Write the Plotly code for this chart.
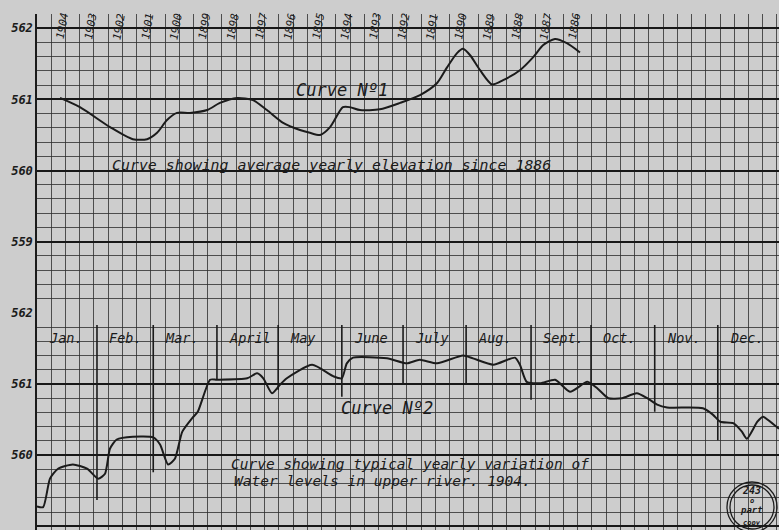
import plotly.graph_objects as go

# ---------------- DATA ----------------
# Curve No 1 : average yearly elevation since 1886 (x = year, reversed axis)
c1_year = [1904.07, 1903.37, 1902.31, 1901.51, 1901.01, 1900.66, 1900.31, 1899.96, 1899.50,
           1898.90, 1898.45, 1897.85, 1897.29, 1896.80, 1896.23, 1895.64, 1895.29, 1894.93,
           1894.58, 1894.13, 1893.88, 1893.53, 1892.83, 1892.12, 1891.42, 1890.82, 1890.47,
           1890.12, 1889.91, 1889.66, 1889.31, 1888.89, 1888.50, 1887.91, 1887.45, 1887.10,
           1886.68, 1886.26, 1885.80]
c1_elev = [561.02, 560.89, 560.61, 560.44, 560.44, 560.53, 560.71, 560.81, 560.81,
           560.85, 560.95, 561.02, 560.99, 560.85, 560.67, 560.57, 560.53, 560.50,
           560.61, 560.89, 560.89, 560.85, 560.86, 560.95, 561.06, 561.23, 561.45,
           561.65, 561.71, 561.62, 561.41, 561.21, 561.27, 561.41, 561.59, 561.76,
           561.85, 561.79, 561.66]
year_labels = [1904, 1903, 1902, 1901, 1900, 1899, 1898, 1897, 1896, 1895,
               1894, 1893, 1892, 1891, 1890, 1889, 1888, 1887, 1886]

# Curve No 2 : typical yearly variation of water levels in upper river, 1904 (x = months from 1 Jan)
c2_month = [0.00, 0.10, 0.21, 0.34, 0.58, 0.81, 0.99, 1.10, 1.18, 1.29, 1.55, 1.88, 1.99,
            2.12, 2.23, 2.35, 2.51, 2.60, 2.80, 2.91, 3.40, 3.56, 3.66, 3.80, 3.93, 4.04,
            4.45, 4.79, 4.93, 5.01, 5.11, 5.66, 5.98, 6.19, 6.47, 6.89, 7.05, 7.38, 7.73,
            7.81, 7.92, 8.14, 8.38, 8.62, 8.90, 9.06, 9.24, 9.46, 9.70, 9.87, 10.03, 10.19,
            10.77, 10.93, 11.05, 11.26, 11.40, 11.48, 11.65, 11.74, 11.86, 12.00]
c2_elev = [559.28, 559.27, 559.67, 559.81, 559.87, 559.81, 559.67, 559.74, 560.09, 560.22,
           560.26, 560.25, 560.15, 559.87, 559.95, 560.33, 560.52, 560.61, 561.06, 561.06,
           561.08, 561.15, 561.08, 560.87, 560.99, 561.08, 561.27, 561.11, 561.08, 561.29,
           561.37, 561.36, 561.29, 561.34, 561.29, 561.40, 561.36, 561.27, 561.37, 561.27,
           561.03, 561.01, 561.06, 560.89, 561.03, 560.94, 560.80, 560.80, 560.87, 560.80,
           560.71, 560.67, 560.66, 560.57, 560.47, 560.45, 560.33, 560.23, 560.47, 560.54,
           560.47, 560.37]
month_names = ["Jan.", "Feb.", "Mar.", "April", "May", "June", "July", "Aug.",
               "Sept.", "Oct.", "Nov.", "Dec."]
# month boundaries as drawn (months from 1 Jan) and the elevation where each divider stops
month_bounds = [0.0, 0.97, 1.88, 2.91, 3.90, 4.93, 5.92, 6.94, 7.99, 8.96, 9.99, 11.01]
divider_ends = [559.37, 559.76, 561.06, 560.92, 560.82, 560.99, 560.99, 560.78, 560.80, 560.61, 560.21]

elev_ticks = [559, 560, 561, 562]
top_tick_text = ["559", "560", "561", "562"]
bottom_tick_text = ["539", "560", "561", "562"]

# ---------------- STYLE ----------------
BG = "rgb(205,205,205)"
INK = "#1b1b1b"
GRID = "rgba(45,45,45,0.8)"
FONT = "DejaVu Sans Mono"
SPLIT = 0.42093          # paper y of the boundary between the two sheets
PX_PER_YEAR = 28.46
PLOT_W = 742
YEAR_LEFT = 1904 + 25 / PX_PER_YEAR
YEAR_RIGHT = YEAR_LEFT - PLOT_W / PX_PER_YEAR
CELL_MONTH = 0.5 * PX_PER_YEAR / (PLOT_W / 12)

fig = go.Figure()
fig.add_trace(go.Scatter(x=c1_year, y=c1_elev, xaxis="x", yaxis="y", mode="lines",
                         line=dict(color=INK, width=2, shape="spline", smoothing=0.7),
                         hoverinfo="skip", showlegend=False))
fig.add_trace(go.Scatter(x=c2_month, y=c2_elev, xaxis="x2", yaxis="y2", mode="lines",
                         line=dict(color=INK, width=2, shape="spline", smoothing=0.6),
                         hoverinfo="skip", showlegend=False))

tickfont = dict(family=FONT, size=12, color=INK, style="italic", weight="bold")

def xgrid(rng, tick0, dtick, anchor):
    return dict(domain=[0, 1], anchor=anchor, range=rng, tickmode="linear", tick0=tick0,
                dtick=dtick, showgrid=True, gridcolor=GRID, gridwidth=1, zeroline=False,
                showticklabels=False, ticks="", showline=False, fixedrange=True)

def ygrid(dom, rng, ticktext, anchor, minor0):
    return dict(domain=dom, anchor=anchor, range=rng, tickmode="array", tickvals=elev_ticks,
                ticktext=ticktext, tickfont=tickfont, showgrid=True, gridcolor="#181818",
                gridwidth=1.6, zeroline=False, ticks="", showline=True, linecolor=INK,
                linewidth=1.5, fixedrange=True,
                minor=dict(tickmode="linear", tick0=minor0, dtick=0.2, showgrid=True,
                           gridcolor=GRID, gridwidth=1, ticks=""))

fig.update_layout(
    width=779, height=530,
    margin=dict(l=37, r=0, t=14, b=0, autoexpand=False),
    paper_bgcolor=BG, plot_bgcolor=BG,
    xaxis=xgrid([YEAR_LEFT, YEAR_RIGHT], YEAR_LEFT, 0.5, "y"),
    yaxis=ygrid([SPLIT, 1], [558.0, 562.2], top_tick_text, "x", 558.0),
    xaxis2=xgrid([0, 12], 0, CELL_MONTH, "y2"),
    yaxis2=ygrid([0, SPLIT], [558.949, 562.0], bottom_tick_text, "x2", 559.0),
)

ann = []
# year labels along the top
for yr in year_labels:
    ann.append(dict(x=yr, y=562.03, xref="x", yref="y", text=str(yr), showarrow=False,
                    textangle=-80, font=dict(family=FONT, size=11, color=INK, style="italic"),
                    xanchor="center", yanchor="middle"))
ann.append(dict(x=1894.16, y=561.13, xref="x", yref="y", text="Curve Nº1", showarrow=False,
                font=dict(family=FONT, size=17, color=INK, style="italic"),
                xanchor="center", yanchor="middle"))
ann.append(dict(x=1902.31, y=560.08, xref="x", yref="y",
                text="Curve showing average yearly elevation since 1886", showarrow=False,
                font=dict(family=FONT, size=14.9, color=INK, style="italic"),
                xanchor="left", yanchor="middle"))
# month labels
for name, start in zip(month_names, month_bounds):
    ann.append(dict(x=start, y=561.65, xref="x2", yref="y2", text=name, showarrow=False,
                    xshift=10, font=dict(family=FONT, size=13.5, color=INK, style="italic"),
                    xanchor="left", yanchor="middle"))
ann.append(dict(x=5.66, y=560.66, xref="x2", yref="y2", text="Curve Nº2", showarrow=False,
                font=dict(family=FONT, size=17, color=INK, style="italic"),
                xanchor="center", yanchor="middle"))
ann.append(dict(x=3.12, y=559.87, xref="x2", yref="y2",
                text="Curve showing typical yearly variation of", showarrow=False,
                font=dict(family=FONT, size=14.5, color=INK, style="italic"),
                xanchor="left", yanchor="middle", borderpad=0))
ann.append(dict(x=3.17, y=559.64, xref="x2", yref="y2",
                text="Water levels in upper river. 1904.", showarrow=False,
                font=dict(family=FONT, size=14.5, color=INK, style="italic"),
                xanchor="left", yanchor="middle", borderpad=0))
# file stamp
for txt, py, sz in [("243", 0.076, 10), ("o", 0.057, 7), ("part", 0.038, 9), ("copy", 0.014, 7)]:
    ann.append(dict(x=0.9636, y=py, xref="paper", yref="paper", text=txt, showarrow=False,
                    font=dict(family=FONT, size=sz, color=INK, style="italic", weight="bold"),
                    xanchor="center", yanchor="middle", borderpad=0))
fig.update_layout(annotations=ann)

shapes = []
for xb, yb in zip(month_bounds[1:], divider_ends):
    shapes.append(dict(type="line", xref="x2", yref="y2", x0=xb, x1=xb, y0=yb, y1=561.83,
                       line=dict(color=INK, width=1.6)))
for r in (25, 22):
    shapes.append(dict(type="circle", xref="paper", yref="paper", xsizemode="pixel",
                       ysizemode="pixel", xanchor=0.9636, yanchor=0.0446,
                       x0=-r, x1=r, y0=-r, y1=r, line=dict(color=INK, width=1.3)))
fig.update_layout(shapes=shapes)

fig.write_html("out.html", config={"displayModeBar": False},
               post_script="document.body.style.margin='0';document.body.style.padding='0';"
                           "document.body.style.overflow='hidden';")
